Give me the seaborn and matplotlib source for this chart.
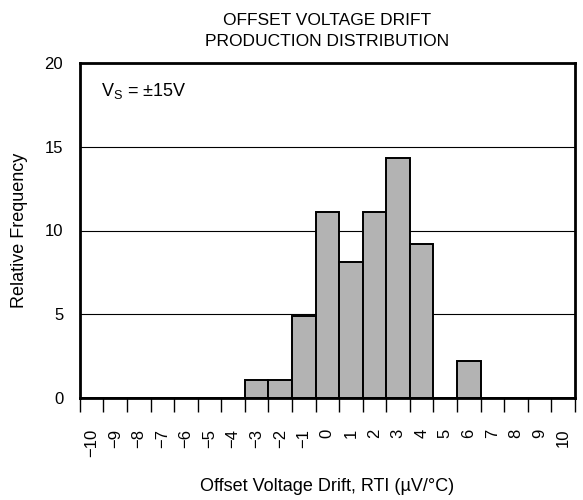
import numpy as np
import seaborn as sns
import matplotlib.pyplot as plt

# Datos ------------------------------------------------------------------------
drift = list(range(-10, 11))
frecuencia = [0, 0, 0, 0, 0, 0, 0, 1.1, 1.1, 4.9, 11.1, 8.1, 11.1, 14.35, 9.2, 0, 2.2, 0, 0, 0, 0]
etiquetas = [str(v).replace("-", "\u2212") for v in drift]

# Estilo -----------------------------------------------------------------------
sns.set_style("white")
plt.rcParams['font.family'] = ['Liberation Sans', 'DejaVu Sans']
plt.rcParams['mathtext.fontset'] = 'custom'
plt.rcParams['mathtext.rm'] = 'Liberation Sans'
plt.rcParams['text.color'] = 'black'
plt.rcParams['axes.labelcolor'] = 'black'
plt.rcParams['xtick.color'] = 'black'
plt.rcParams['ytick.color'] = 'black'

fig = plt.figure(figsize=(5.83, 5.0), dpi=100)
ax = fig.add_axes([0.137, 0.204, 0.849, 0.670])

bordes = np.arange(-10.5, 11.5, 1.0)
sns.histplot(x=drift, weights=frecuencia, binwidth=1, binrange=(-10.5, 10.5), stat="count",
             color="#b3b3b3", edgecolor="black", linewidth=1.4, alpha=1.0, ax=ax)

ax.set_xlim(-10.5, 10.5)
ax.set_ylim(0, 20)
ax.set_yticks([0, 5, 10, 15, 20])
ax.yaxis.grid(True, color="black", linewidth=0.8)
ax.set_axisbelow(True)

# ticks en los bordes, etiquetas en el centro
ax.set_xticks(bordes)
ax.set_xticklabels([])
ax.tick_params(axis="x", which="major", direction="out", length=10, width=1, color="black", bottom=True)
ax.set_xticks(drift, minor=True)
ax.set_xticklabels(etiquetas, minor=True, rotation=90, fontsize=12)
ax.tick_params(axis="x", which="minor", length=0, pad=22)
ax.tick_params(axis="y", length=0, labelsize=12, pad=12)

for s in ax.spines.values():
    s.set_color("black")
    s.set_linewidth(2)

ax.text(-9.6, 18.3, r"V$_\mathregular{S}$ = ±15V", fontsize=13, va="center")

ax.set_title("OFFSET VOLTAGE DRIFT\nPRODUCTION DISTRIBUTION", fontsize=12.5, pad=12, linespacing=1.55)
ax.set_ylabel("Relative Frequency", fontsize=13, labelpad=12)
ax.set_xlabel("Offset Voltage Drift, RTI (µV/°C)", fontsize=13, labelpad=15)

fig.savefig("out.png", dpi=100)
